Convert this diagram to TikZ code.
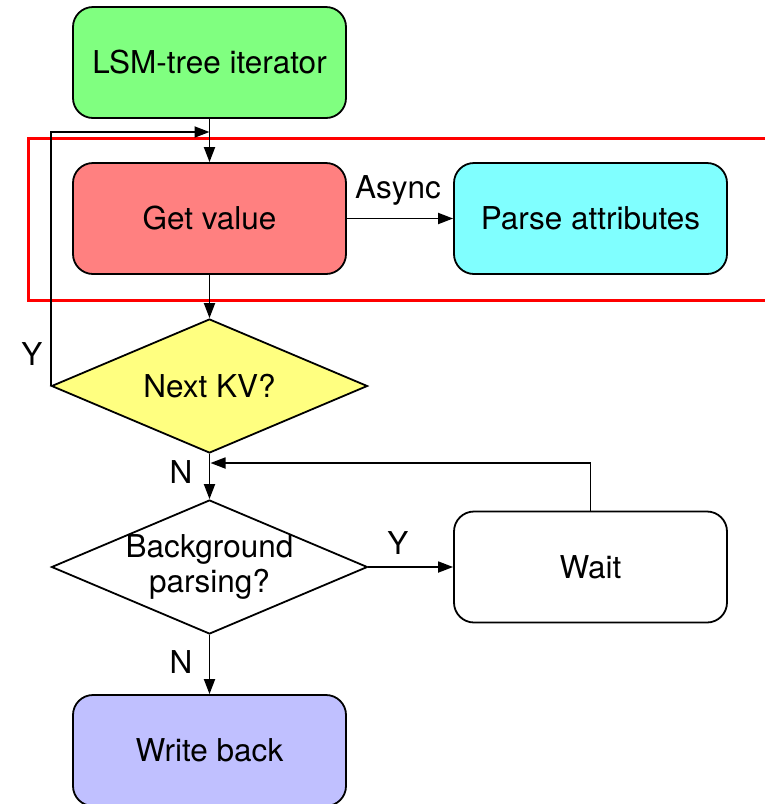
\documentclass[tikz,border=0pt]{standalone}
\usepackage{fontspec}
\setmainfont{TeX Gyre Heros}
\usetikzlibrary{arrows.meta,shapes.geometric}
\definecolor{lsmgreen}{HTML}{80FF80}
\definecolor{getred}{HTML}{FF8080}
\definecolor{parsecyan}{HTML}{80FFFF}
\definecolor{kvyellow}{HTML}{FFFF80}
\definecolor{wbblue}{HTML}{C0C0FF}
\definecolor{frame}{HTML}{FF0000}
\begin{document}
\begin{tikzpicture}[x=1pt,y=-1pt,
  every node/.style={font=\fontsize{31.5}{35}\selectfont},
  box/.style={draw,line width=1.8pt,rounded corners=20pt,minimum width=273pt,
    minimum height=111pt,inner sep=0pt},
  dia/.style={draw,shape=diamond,line width=1.8pt,minimum width=316pt,
    minimum height=134pt,inner sep=0pt,shape aspect=2.36},
  arr/.style={line width=1.8pt,-{Triangle[length=15pt,width=11pt]}},
  lbl/.style={inner sep=0pt}]
  \useasboundingbox (0,0) rectangle (765,804);

  % highlight frame around the value fetch stage
  \draw[frame,line width=3pt] (28,138) rectangle (775,300);

  % process boxes
  \node[box,fill=lsmgreen]  (lsm)   at (209.5,62.5)  {LSM-tree iterator};
  \node[box,fill=getred]    (get)   at (209.5,218.5) {Get value};
  \node[box,fill=parsecyan] (parse) at (590.5,218.5) {Parse attributes};
  \node[box,fill=white]     (wait)  at (590.5,567)   {Wait};
  \node[box,fill=wbblue]    (wb)    at (209.5,750.5) {Write back};

  % decisions
  \node[dia,fill=kvyellow] (kv) at (209.5,386) {};
  \node (kvtext) at (kv.center) {Next KV?};
  \node[dia,fill=white] (bg) at (209.5,567) {};
  \node[align=center] (bgtext) at (bg.center) {Background\\parsing?};

  % junction points on the main line
  \coordinate (j1) at (209.5,132);
  \coordinate (j2) at (210.5,463);

  % connectors
  \draw[arr] (lsm) -- (get);
  \draw[arr] (get) -- (parse);
  \draw[arr] (get) -- (kv);
  \draw[arr] (kv.west) |- (j1);
  \draw[arr] (kv.south) -- (bg.north);
  \draw[arr] (bg.east) -- (wait.west);
  \draw[arr] (wait.north) |- (j2);
  \draw[arr] (bg.south) -- (wb);

  % connector labels
  \node[lbl] (async) at (398,190) {Async};
  \node[lbl] (kvyes) at (32,354)  {Y};
  \node[lbl] (kvno)  at (181,472) {N};
  \node[lbl] (bgyes) at (398,543) {Y};
  \node[lbl] (bgno)  at (181,662) {N};
\end{tikzpicture}
\end{document}
